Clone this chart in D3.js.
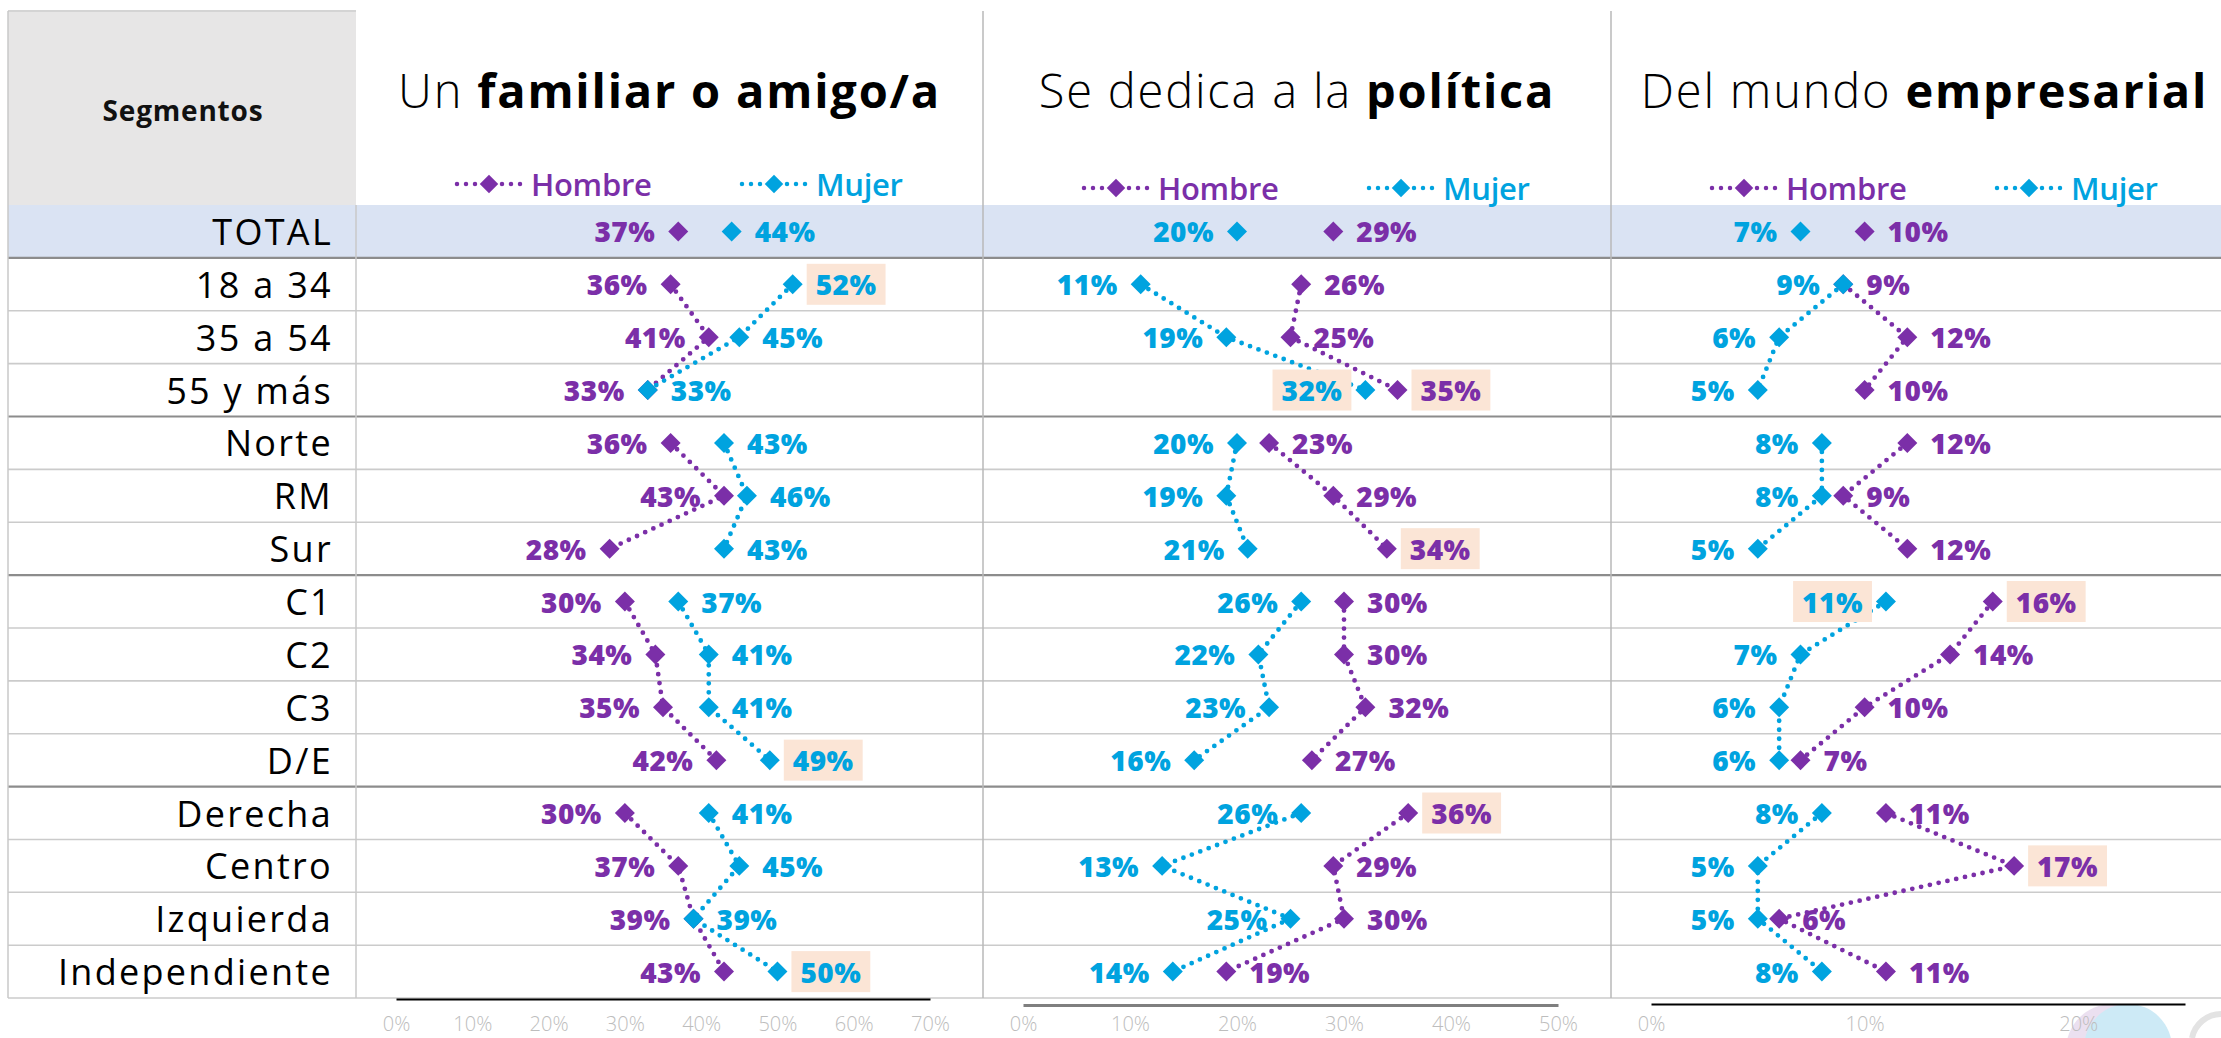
<!DOCTYPE html>
<html>
<head>
<meta charset="utf-8">
<script src="https://cdn.jsdelivr.net/npm/d3@7"></script>
<style>
  body { margin: 0; background: #fff; }
  svg { display: block; font-family: "Open Sans", sans-serif; }
</style>
</head>
<body>
<svg id="chart"></svg>
<script>
const width = 2221;
const height = 1038;

// Datos
const segmentos = ["TOTAL", "18 a 34", "35 a 54", "55 y más", "Norte", "RM", "Sur",
  "C1", "C2", "C3", "D/E", "Derecha", "Centro", "Izquierda", "Independiente"];
const grupos = [[1, 2, 3], [4, 5, 6], [7, 8, 9, 10], [11, 12, 13, 14]];

const titulosNormal = ["Un ", "Se dedica a la ", "Del mundo "];
const titulosBold = ["familiar o amigo/a", "política", "empresarial"];

const familiarHombre = [37, 36, 41, 33, 36, 43, 28, 30, 34, 35, 42, 30, 37, 39, 43];
const familiarMujer = [44, 52, 45, 33, 43, 46, 43, 37, 41, 41, 49, 41, 45, 39, 50];
const politicaHombre = [29, 26, 25, 35, 23, 29, 34, 30, 30, 32, 27, 36, 29, 30, 19];
const politicaMujer = [20, 11, 19, 32, 20, 19, 21, 26, 22, 23, 16, 26, 13, 25, 14];
const empresarialHombre = [10, 9, 12, 10, 12, 9, 12, 16, 14, 10, 7, 11, 17, 6, 11];
const empresarialMujer = [7, 9, 6, 5, 8, 8, 5, 11, 7, 6, 6, 8, 5, 5, 8];

const dominios = [70, 50, 25];
const ticks = [[0, 10, 20, 30, 40, 50, 60, 70], [0, 10, 20, 30, 40, 50], [0, 10, 20]];

// [panel, fila, serie]
const destacados = [
  [0, 1, "Mujer"], [0, 10, "Mujer"], [0, 14, "Mujer"],
  [1, 3, "Mujer"], [1, 3, "Hombre"], [1, 6, "Hombre"], [1, 11, "Hombre"],
  [2, 7, "Mujer"], [2, 7, "Hombre"], [2, 12, "Hombre"]
];

const series = [
  { hombre: familiarHombre, mujer: familiarMujer },
  { hombre: politicaHombre, mujer: politicaMujer },
  { hombre: empresarialHombre, mujer: empresarialMujer }
];

const colores = { Hombre: "#7b2fa8", Mujer: "#00a3df" };

// Layout
const leftX = 8, labelRight = 356, topY = 11;
const rowTop = 205, rowH = 52.87;
const panelX = [356, 983, 1611, 2238];
const axisRange = [[396, 930], [1023, 1558], [1651, 2185]];
const axisY = [999, 1005, 1004];
const legendY = [184, 188, 188];
const tickBaseline = 1031;

const svg = d3.select("#chart").attr("width", width).attr("height", height);

const y = d3.scaleBand().domain(d3.range(segmentos.length))
  .range([rowTop, rowTop + rowH * segmentos.length]);

// Fondo cabecera y fila total
svg.append("rect").attr("x", leftX).attr("y", topY).attr("width", labelRight - leftX)
  .attr("height", rowTop - topY).attr("fill", "#e7e6e6");
svg.append("line").attr("x1", leftX).attr("x2", labelRight).attr("y1", topY).attr("y2", topY)
  .attr("stroke", "#d4d4d4").attr("stroke-width", 2);
svg.append("rect").attr("x", leftX).attr("y", y(0)).attr("width", width - leftX)
  .attr("height", y.bandwidth()).attr("fill", "#dae3f3");

// Watermark (logo parcial)
svg.append("circle").attr("cx", 2112).attr("cy", 1050).attr("r", 46)
  .attr("fill", "#ebe0f0");
svg.append("circle").attr("cx", 2128).attr("cy", 1048).attr("r", 44)
  .attr("fill", "#cdeaf6");
svg.append("path").attr("d", "M2192,1038 A30,30 0 0,1 2221,1014")
  .attr("fill", "none").attr("stroke", "#e3e3e3").attr("stroke-width", 6);

// Lineas de filas
const separadores = new Set([0, 3, 6, 10]);
d3.range(1, segmentos.length + 1).forEach(i => {
  const yy = rowTop + rowH * i;
  svg.append("line").attr("x1", leftX).attr("x2", width).attr("y1", yy).attr("y2", yy)
    .attr("stroke", separadores.has(i - 1) ? "#8c8c8c" : "#cbcbcb")
    .attr("stroke-width", separadores.has(i - 1) ? 2.2 : 1.6);
});

// Lineas verticales
const yBottom = rowTop + rowH * segmentos.length;
svg.append("line").attr("x1", leftX).attr("x2", leftX).attr("y1", topY).attr("y2", yBottom)
  .attr("stroke", "#c8c8c8").attr("stroke-width", 1.5);
svg.append("line").attr("x1", labelRight).attr("x2", labelRight).attr("y1", rowTop).attr("y2", yBottom)
  .attr("stroke", "#c8c8c8").attr("stroke-width", 1.5);
[panelX[1], panelX[2]].forEach(x => {
  svg.append("line").attr("x1", x).attr("x2", x).attr("y1", topY).attr("y2", yBottom)
    .attr("stroke", "#b8b8b8").attr("stroke-width", 1.5);
});

// Cabecera
svg.append("text").attr("x", 183).attr("y", 110)
  .attr("text-anchor", "middle").attr("dominant-baseline", "central")
  .attr("font-size", 28).attr("font-weight", 700).attr("letter-spacing", 0.8)
  .attr("fill", "#111").text("Segmentos");

// Etiquetas de filas
svg.append("g").selectAll("text").data(segmentos).join("text")
  .attr("x", 333).attr("y", (d, i) => y(i) + y.bandwidth() / 2)
  .attr("text-anchor", "end").attr("dominant-baseline", "central")
  .attr("font-size", 36).attr("font-weight", 400).attr("letter-spacing", 2.3)
  .attr("fill", "#000").text(d => d);

const diamond = d3.symbol().type(d3.symbolSquare).size(200);
const diamondSmall = d3.symbol().type(d3.symbolSquare).size(170);

series.forEach((s, p) => {
  const g = svg.append("g");
  const x = d3.scaleLinear().domain([0, dominios[p]]).range(axisRange[p]);
  const cx = (panelX[p] + panelX[p + 1]) / 2;

  // Titulo
  const t = g.append("text").attr("x", cx).attr("y", 108).attr("text-anchor", "middle")
    .attr("font-size", 47).attr("letter-spacing", 1.8).attr("fill", "#000");
  t.append("tspan").attr("font-weight", 300).text(titulosNormal[p]);
  t.append("tspan").attr("font-weight", 700).text(titulosBold[p]);

  // Leyenda
  [["Hombre", 98], ["Mujer", 383]].forEach(([name, off]) => {
    const lx = panelX[p] + off;
    const ly = legendY[p];
    g.append("line").attr("x1", lx + 3).attr("x2", lx + 68).attr("y1", ly).attr("y2", ly)
      .attr("stroke", colores[name]).attr("stroke-width", 4.5)
      .attr("stroke-linecap", "round").attr("stroke-dasharray", "0 9");
    g.append("path").attr("d", diamondSmall)
      .attr("transform", `translate(${lx + 35},${ly}) rotate(45)`)
      .attr("fill", colores[name]);
    g.append("text").attr("x", lx + 77).attr("y", ly).attr("dominant-baseline", "central")
      .attr("font-size", 31).attr("font-weight", 600).attr("letter-spacing", -0.3)
      .attr("fill", colores[name]).text(name);
  });

  // Eje
  const axis = g.append("g").attr("transform", `translate(0,${axisY[p]})`)
    .call(d3.axisBottom(x).tickValues(ticks[p]).tickSize(0)
      .tickFormat(d => d + "%"));
  axis.select(".domain").attr("stroke", p === 1 ? "#7f7f7f" : "#000")
    .attr("stroke-width", p === 1 ? 3 : 2);
  axis.selectAll("text").attr("y", tickBaseline - axisY[p]).attr("dy", null)
    .attr("font-size", 20).attr("font-weight", 300)
    .attr("font-family", "Open Sans").attr("fill", "#bdbdbd");

  const rows = segmentos.map((seg, i) => ({
    i, Hombre: s.hombre[i], Mujer: s.mujer[i]
  }));
  const totalLeft = s.hombre[0] <= s.mujer[0] ? "Hombre" : "Mujer";

  // Lineas punteadas
  ["Hombre", "Mujer"].forEach(name => {
    const line = d3.line().x(d => x(d[name])).y(d => y(d.i) + y.bandwidth() / 2);
    grupos.forEach(gr => {
      g.append("path").datum(gr.map(i => rows[i])).attr("d", line)
        .attr("fill", "none").attr("stroke", colores[name]).attr("stroke-width", 4.8)
        .attr("stroke-linecap", "round").attr("stroke-dasharray", "0 9");
    });
  });

  // Marcadores y etiquetas
  ["Hombre", "Mujer"].forEach(name => {
    const other = name === "Hombre" ? "Mujer" : "Hombre";
    rows.forEach(r => {
      const px = x(r[name]);
      const py = y(r.i) + y.bandwidth() / 2;
      const isLeft = r[name] < r[other] || (r[name] === r[other] && name === totalLeft);
      const hl = destacados.some(d => d[0] === p && d[1] === r.i && d[2] === name);
      g.append("path").attr("d", diamond)
        .attr("transform", `translate(${px},${py}) rotate(45)`)
        .attr("fill", colores[name]);
      const lbl = g.append("text")
        .attr("x", isLeft ? px - 23 : px + 23).attr("y", py)
        .attr("text-anchor", isLeft ? "end" : "start")
        .attr("dominant-baseline", "central")
        .attr("font-size", 28).attr("font-weight", 800).attr("letter-spacing", 0.5)
        .attr("fill", colores[name]).text(r[name] + "%");
      if (hl) {
        const bb = lbl.node().getBBox();
        g.insert("rect", function () { return lbl.node(); })
          .attr("x", bb.x - 9).attr("y", py - 20.5)
          .attr("width", bb.width + 18).attr("height", 41)
          .attr("fill", "#fbe5d6");
      }
    });
  });
});
</script>
</body>
</html>
